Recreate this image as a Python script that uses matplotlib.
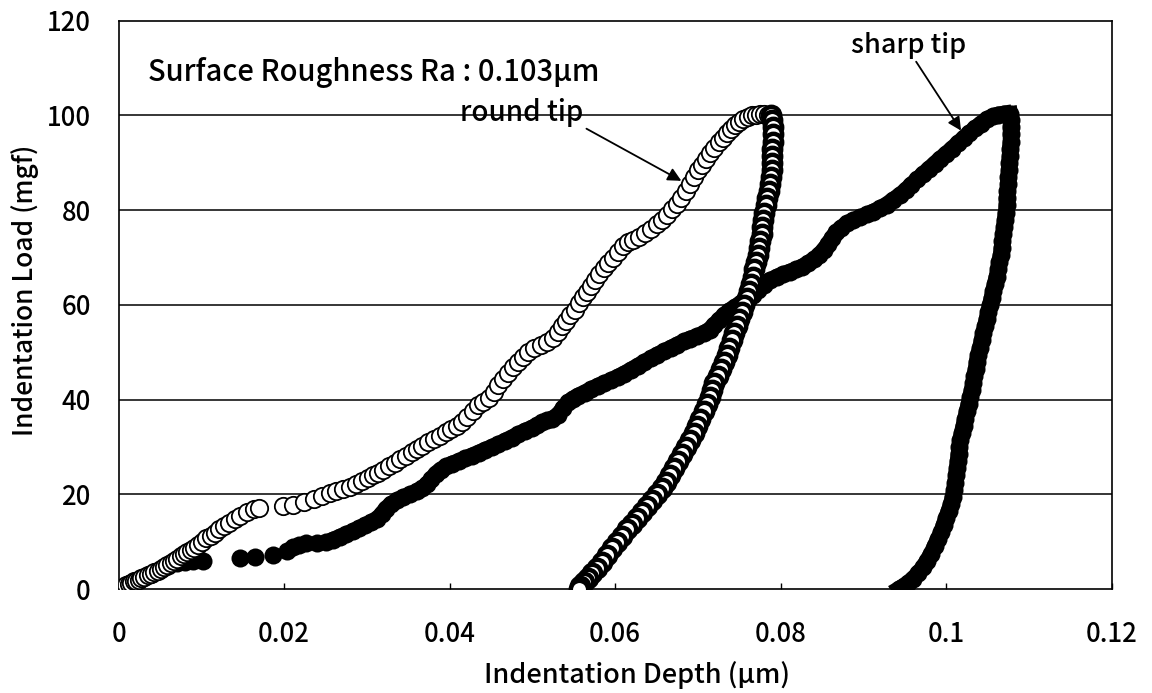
import matplotlib
matplotlib.use("Agg")
import matplotlib.pyplot as plt

plt.rcParams["font.family"] = ["Noto Sans CJK JP", "DejaVu Sans"]
plt.rcParams["font.weight"] = "medium"
plt.rcParams["axes.labelweight"] = "medium"

# Round tip, loading (open circles)
round_load_x = [
    0.0000, 0.0003, 0.0006, 0.0009, 0.0012, 0.0015, 0.0018, 0.0021, 0.0024, 0.0027,
    0.0031, 0.0035, 0.0039, 0.0043, 0.0047, 0.0051, 0.0055, 0.0059, 0.0063, 0.0067,
    0.0071, 0.0075, 0.0079, 0.0083, 0.0087, 0.0091, 0.0096, 0.0101, 0.0106, 0.0111,
    0.0116, 0.0121, 0.0127, 0.0133, 0.0140, 0.0147, 0.0155, 0.0163, 0.0170,
    0.0198, 0.0211, 0.0224, 0.0236, 0.0246, 0.0255, 0.0263, 0.0271, 0.0279, 0.0287,
    0.0294, 0.0301, 0.0307, 0.0313, 0.0320, 0.0327, 0.0334, 0.0340, 0.0347, 0.0354,
    0.0361, 0.0367, 0.0374, 0.0381, 0.0388, 0.0395, 0.0402, 0.0409, 0.0415, 0.0421,
    0.0428, 0.0434, 0.0440, 0.0447, 0.0453, 0.0459, 0.0465, 0.0471, 0.0477, 0.0483,
    0.0489, 0.0495, 0.0502, 0.0510, 0.0518, 0.0525, 0.0531, 0.0536, 0.0541, 0.0546,
    0.0551, 0.0556, 0.0561, 0.0566, 0.0571, 0.0576, 0.0581, 0.0586, 0.0591, 0.0597,
    0.0603, 0.0609, 0.0615, 0.0622, 0.0629, 0.0636, 0.0643, 0.0650, 0.0657, 0.0663,
    0.0669, 0.0675, 0.0680, 0.0685, 0.0690, 0.0695, 0.0700, 0.0705, 0.0710, 0.0715,
    0.0720, 0.0725, 0.0730, 0.0735, 0.0740, 0.0745, 0.0750, 0.0755, 0.0760, 0.0765,
    0.0770, 0.0775, 0.0780, 0.0785,
]
round_load_y = [
    0.0, 0.2, 0.5, 0.8, 1.0, 1.3, 1.6, 1.8, 2.0, 2.3,
    2.6, 2.9, 3.2, 3.5, 3.9, 4.2, 4.6, 5.0, 5.5, 6.0,
    6.4, 6.9, 7.4, 7.9, 8.3, 8.7, 9.3, 10.0, 10.7, 11.3,
    11.9, 12.6, 13.3, 14.0, 14.8, 15.5, 16.2, 16.8, 17.1,
    17.5, 17.8, 18.3, 19.0, 19.6, 20.2, 20.6, 21.1, 21.6, 22.2,
    22.8, 23.5, 24.0, 24.6, 25.2, 25.9, 26.6, 27.4, 28.2, 28.9,
    29.6, 30.3, 31.0, 31.7, 32.4, 33.2, 33.8, 34.4, 35.2, 36.3,
    37.6, 38.8, 39.6, 40.4, 41.6, 43.0, 44.3, 45.6, 46.8, 48.0,
    49.0, 50.0, 50.8, 51.5, 52.2, 53.0, 54.2, 55.5, 56.6, 57.8,
    59.0, 60.3, 61.6, 62.8, 64.0, 65.3, 66.5, 67.7, 68.8, 69.9,
    71.2, 72.4, 73.2, 73.8, 74.4, 75.1, 76.0, 77.0, 78.0, 79.0,
    80.2, 81.3, 82.6, 84.0, 85.5, 87.0, 88.4, 89.6, 90.8, 92.0,
    93.2, 94.3, 95.3, 96.3, 97.2, 98.0, 98.7, 99.3, 99.7, 100.0,
    100.2, 100.3, 100.3, 100.2,
]

# Round tip, unloading (open circles, very dense)
round_unload_x = [
    0.0788, 0.0790, 0.0791, 0.0791, 0.0791, 0.0790, 0.0790, 0.0789, 0.0789, 0.0788,
    0.0787, 0.0786, 0.0784, 0.0782, 0.0780, 0.0779, 0.0778, 0.0777, 0.0775, 0.0774,
    0.0772, 0.0770, 0.0768, 0.0766, 0.0764, 0.0762, 0.0759, 0.0756, 0.0753, 0.0750,
    0.0747, 0.0744, 0.0741, 0.0738, 0.0735, 0.0732, 0.0728, 0.0724, 0.0720, 0.0717,
    0.0714, 0.0711, 0.0707, 0.0703, 0.0699, 0.0695, 0.0691, 0.0686, 0.0681, 0.0676,
    0.0671, 0.0666, 0.0661, 0.0656, 0.0650, 0.0644, 0.0638, 0.0632, 0.0626, 0.0620,
    0.0614, 0.0608, 0.0602, 0.0596, 0.0590, 0.0584, 0.0578, 0.0572, 0.0567, 0.0562,
    0.0558, 0.0556,
]
round_unload_y = [
    100.0, 99.0, 97.5, 96.0, 94.5, 93.0, 91.5, 90.0, 88.5, 87.0,
    85.5, 84.0, 82.5, 81.0, 79.5, 78.0, 76.5, 75.0, 73.5, 72.0,
    70.5, 69.0, 67.5, 66.0, 64.5, 63.0, 61.5, 60.0, 58.5, 57.0,
    55.5, 54.0, 52.5, 51.0, 49.5, 48.0, 46.5, 45.0, 43.5, 42.0,
    40.5, 39.0, 37.5, 36.0, 34.5, 33.0, 31.5, 30.0, 28.5, 27.0,
    25.5, 24.0, 22.7, 21.4, 20.1, 18.8, 17.5, 16.2, 15.0, 13.8,
    12.6, 11.3, 10.0, 8.6, 7.2, 5.8, 4.5, 3.3, 2.3, 1.4,
    0.7, 0.0,
]

# Sharp tip, loading (filled circles)
sharp_load_x = [
    0.0000, 0.0010, 0.0020, 0.0030, 0.0040, 0.0050, 0.0060, 0.0070, 0.0080, 0.0090,
    0.0102, 0.0147, 0.0165, 0.0187, 0.0203, 0.0211, 0.0218, 0.0226, 0.0240, 0.0250,
    0.0259, 0.0267, 0.0275, 0.0283, 0.0291, 0.0298, 0.0305, 0.0312, 0.0318, 0.0323,
    0.0329, 0.0336, 0.0344, 0.0352, 0.0360, 0.0367, 0.0373, 0.0378, 0.0383, 0.0389,
    0.0396, 0.0403, 0.0411, 0.0419, 0.0427, 0.0435, 0.0443, 0.0451, 0.0459, 0.0467,
    0.0475, 0.0483, 0.0491, 0.0499, 0.0506, 0.0512, 0.0518, 0.0524, 0.0531, 0.0537,
    0.0543, 0.0549, 0.0555, 0.0563, 0.0571, 0.0579, 0.0587, 0.0595, 0.0603, 0.0611,
    0.0619, 0.0627, 0.0635, 0.0643, 0.0651, 0.0659, 0.0667, 0.0675, 0.0683, 0.0691,
    0.0699, 0.0707, 0.0714, 0.0720, 0.0726, 0.0732, 0.0738, 0.0745, 0.0752, 0.0759,
    0.0766, 0.0773, 0.0780, 0.0787, 0.0795, 0.0803, 0.0811, 0.0819, 0.0826, 0.0833,
    0.0840, 0.0846, 0.0852, 0.0857, 0.0862, 0.0867, 0.0873, 0.0880, 0.0888, 0.0896,
    0.0904, 0.0912, 0.0920, 0.0928, 0.0936, 0.0944, 0.0951, 0.0958, 0.0965, 0.0972,
    0.0979, 0.0986, 0.0993, 0.1000, 0.1007, 0.1014, 0.1021, 0.1028, 0.1035, 0.1042,
    0.1049, 0.1056, 0.1063, 0.1070,
]
sharp_load_y = [
    0.0, 0.8, 1.6, 2.4, 3.2, 4.0, 4.8, 5.4, 5.8, 5.9,
    6.0, 6.5, 6.8, 7.2, 8.0, 8.8, 9.4, 9.8, 9.8, 10.0,
    10.4, 11.0, 11.6, 12.2, 12.9, 13.5, 14.1, 14.8, 15.8, 17.0,
    17.9, 18.7, 19.4, 20.0, 20.6, 21.3, 22.2, 23.2, 24.3, 25.2,
    25.9, 26.5, 27.0, 27.6, 28.2, 28.8, 29.4, 30.0, 30.6, 31.3,
    32.0, 32.7, 33.4, 34.0, 34.6, 35.2, 35.6, 36.0, 36.8, 38.2,
    39.4, 40.2, 40.8, 41.5, 42.2, 42.9, 43.5, 44.1, 44.8, 45.5,
    46.3, 47.1, 47.9, 48.7, 49.5, 50.2, 50.9, 51.6, 52.3, 52.9,
    53.4, 54.0, 54.8, 55.8, 56.9, 57.9, 58.8, 59.6, 60.4, 61.2,
    62.2, 63.2, 64.2, 65.2, 65.9, 66.5, 67.0, 67.5, 68.1, 68.8,
    69.6, 70.5, 71.6, 72.8, 74.1, 75.3, 76.3, 77.2, 77.9, 78.5,
    79.1, 79.7, 80.4, 81.2, 82.2, 83.2, 84.2, 85.4, 86.5, 87.6,
    88.7, 89.8, 90.9, 91.9, 93.0, 94.1, 95.2, 96.3, 97.3, 98.3,
    99.2, 99.8, 100.2, 100.4,
]

# Sharp tip, unloading (filled circles)
sharp_unload_x = [
    0.1077, 0.1078, 0.1078, 0.1078, 0.1078, 0.1077, 0.1077, 0.1076, 0.1076, 0.1075,
    0.1075, 0.1074, 0.1073, 0.1073, 0.1072, 0.1071, 0.1070, 0.1069, 0.1068, 0.1067,
    0.1066, 0.1064, 0.1063, 0.1061, 0.1059, 0.1057, 0.1055, 0.1053, 0.1051, 0.1049,
    0.1047, 0.1045, 0.1043, 0.1041, 0.1039, 0.1037, 0.1036, 0.1034, 0.1033, 0.1031,
    0.1029, 0.1027, 0.1025, 0.1023, 0.1021, 0.1019, 0.1017, 0.1016, 0.1015, 0.1014,
    0.1013, 0.1012, 0.1011, 0.1010, 0.1008, 0.1006, 0.1003, 0.1000, 0.0997, 0.0994,
    0.0990, 0.0986, 0.0982, 0.0977, 0.0972, 0.0966, 0.0960, 0.0954, 0.0949, 0.0945,
    0.0943,
]
sharp_unload_y = [
    100.3, 99.0, 97.5, 96.0, 94.5, 93.0, 91.5, 90.0, 88.5, 87.0,
    85.5, 84.0, 82.5, 81.0, 79.5, 78.0, 76.5, 75.0, 73.5, 72.0,
    70.5, 69.0, 67.5, 66.0, 64.5, 63.0, 61.5, 60.0, 58.5, 57.0,
    55.5, 54.0, 52.5, 51.0, 49.5, 48.0, 46.5, 45.0, 43.5, 42.0,
    40.5, 39.0, 37.5, 36.0, 34.5, 33.0, 31.5, 30.0, 28.5, 27.0,
    25.5, 24.0, 22.5, 21.0, 19.5, 18.0, 16.5, 15.0, 13.5, 12.0,
    10.5, 9.0, 7.5, 6.0, 4.6, 3.3, 2.2, 1.3, 0.6, 0.2,
    0.0,
]

fig = plt.figure(figsize=(11.52, 6.93), dpi=100)
ax = fig.add_axes([0.103, 0.150, 0.862, 0.820])

# sharp tip first so the open circles sit on top
ax.plot(sharp_load_x, sharp_load_y, "o", color="black", ms=13, mew=0, zorder=3)
ax.plot(sharp_unload_x, sharp_unload_y, "o", color="black", ms=13, mew=0, zorder=3)
ax.plot(sharp_unload_x, sharp_unload_y, "-", color="black", lw=11.5, zorder=3)
ax.plot(sharp_load_x[20:], sharp_load_y[20:], "-", color="black", lw=11.5, zorder=3)

ax.plot(round_load_x, round_load_y, "o", mfc="white", mec="black", ms=12.5, mew=1.3, zorder=4)
ax.plot(round_unload_x, round_unload_y, "o", mfc="white", mec="black", ms=12.5, mew=3.2, zorder=4)

ax.set_xlim(0, 0.12)
ax.set_ylim(0, 120)
ax.set_xticks([0, 0.02, 0.04, 0.06, 0.08, 0.1, 0.12])
ax.set_xticklabels(["0", "0.02", "0.04", "0.06", "0.08", "0.1", "0.12"])
ax.set_yticks(range(0, 121, 20))
for y in range(20, 120, 20):
    ax.axhline(y, color="black", lw=1.1, zorder=1)

for s in ax.spines.values():
    s.set_linewidth(1.2)
ax.tick_params(axis="x", direction="in", length=4, width=1, pad=23, labelsize=18.5)
ax.tick_params(axis="y", direction="in", length=0, pad=20, labelsize=18.5)

ax.set_xlabel("Indentation Depth (μm)", fontsize=19.5)
ax.set_ylabel("Indentation Load (mgf)", fontsize=19)
ax.xaxis.set_label_coords(0.522, -0.151)
ax.xaxis.label.set_verticalalignment("center")
ax.yaxis.set_label_coords(-0.094, 0.526)
ax.yaxis.label.set_verticalalignment("center")

ax.text(0.0035, 109, "Surface Roughness Ra : 0.103μm", fontsize=21, va="center", ha="left")

ax.annotate("round tip", xy=(0.0680, 86.2), xytext=(0.0413, 100.6),
            fontsize=20, va="center", ha="left",
            arrowprops=dict(arrowstyle="-|>", color="black", lw=1.3, mutation_scale=20,
                            shrinkA=0, shrinkB=0, relpos=(1.0, 0.0)))
ax.annotate("sharp tip", xy=(0.1018, 96.8), xytext=(0.0885, 114.8),
            fontsize=19.5, va="center", ha="left",
            arrowprops=dict(arrowstyle="-|>", color="black", lw=1.3, mutation_scale=20,
                            shrinkA=0, shrinkB=0, relpos=(0.55, 0.0)))

fig.savefig("out.png", dpi=100)
